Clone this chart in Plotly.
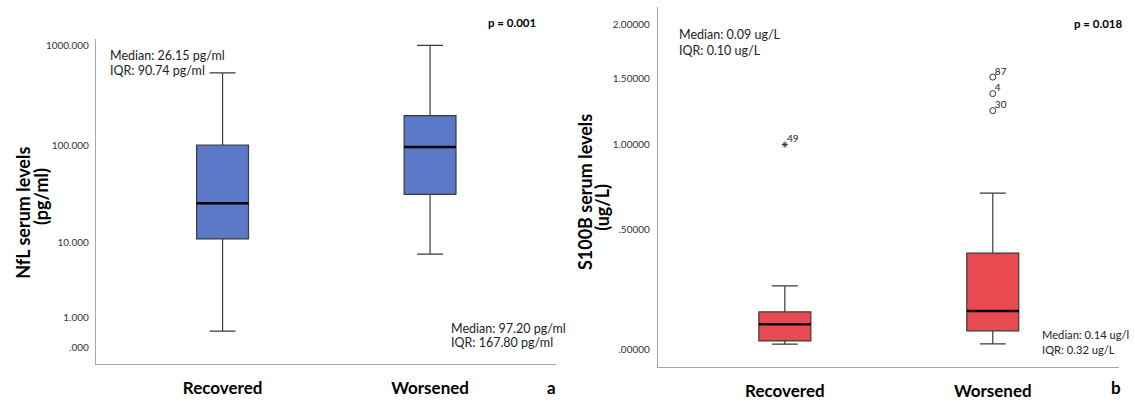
import numpy as np
import plotly.graph_objects as go

W, H = 1135, 401

# ---------------- data ----------------
categories = ["Recovered", "Worsened"]
cat_pos = [0, 1]

nfl_lower = [0.46, 7.5]
nfl_q1 = [11.0, 32.2]
nfl_median = [26.15, 97.2]
nfl_q3 = [101.7, 200.0]
nfl_upper = [532.0, 1000.0]

s100_lower = [0.019, 0.020]
s100_q1 = [0.030, 0.066]
s100_median = [0.09, 0.14]
s100_q3 = [0.136, 0.386]
s100_upper = [0.241, 0.698]

s100_out_cat = [0, 1, 1, 1]
s100_out_val = [1.00, 1.512, 1.376, 1.243]
s100_out_id = ["49", "87", "4", "30"]
s100_out_extreme = [True, False, False, False]

nfl_tick_vals = [0, 1, 10, 100, 1000]
nfl_tick_text = [".000", "1.000", "10.000", "100.000", "1000.000"]
s100_tick_vals = [0, 0.5, 1.0, 1.5, 2.0]
s100_tick_text = [".00000", ".50000", "1.00000", "1.50000", "2.00000"]


def slog(v):
    """SPSS-style safe log transform"""
    return np.log10(1 + np.asarray(v, dtype=float))


BLUE = "#5b79c6"
RED = "#e94a51"
BOX_W = 0.25
FONT = "Lato"

fig = go.Figure()


def add_boxes(xa, ya, lower, q1, med, q3, upper, color):
    for i, c in enumerate(cat_pos):
        fig.add_trace(go.Box(
            x=[c], lowerfence=[slog(lower[i])], q1=[slog(q1[i])],
            median=[slog(med[i])], q3=[slog(q3[i])], upperfence=[slog(upper[i])],
            width=BOX_W, whiskerwidth=0.5, fillcolor=color,
            line=dict(color="#3a3a3a", width=1.2), boxpoints=False,
            xaxis=xa, yaxis=ya, showlegend=False, hoverinfo="skip"))
        fig.add_trace(go.Scatter(
            x=[c - BOX_W / 2, c + BOX_W / 2], y=[slog(med[i])] * 2,
            mode="lines", line=dict(color="black", width=2.5),
            xaxis=xa, yaxis=ya, showlegend=False, hoverinfo="skip"))


add_boxes("x", "y", nfl_lower, nfl_q1, nfl_median, nfl_q3, nfl_upper, BLUE)
add_boxes("x2", "y2", s100_lower, s100_q1, s100_median, s100_q3, s100_upper, RED)

# outliers
for cat, val, lab, ext in zip(s100_out_cat, s100_out_val, s100_out_id, s100_out_extreme):
    fig.add_trace(go.Scatter(
        x=[cat], y=[slog(val)], mode="markers",
        marker=dict(symbol="asterisk-open" if ext else "circle-open",
                    size=5 if ext else 6, color="#333",
                    line=dict(width=1, color="#333")),
        xaxis="x2", yaxis="y2", showlegend=False, hoverinfo="skip"))
    fig.add_trace(go.Scatter(
        x=[cat + 0.01], y=[slog(val)], mode="text", text=[lab],
        textposition="top right", textfont=dict(family=FONT, size=10, color="#222"),
        xaxis="x2", yaxis="y2", showlegend=False, hoverinfo="skip"))

xrange = [-0.61, 1.607]


def px(x):
    return x / W


def py(y):
    return 1 - y / H


axis_common = dict(showline=True, linecolor="#a6a6a6", linewidth=1.3,
                   showgrid=False, zeroline=False, ticks="")

fig.update_layout(
    width=W, height=H, margin=dict(l=0, r=0, t=0, b=0),
    plot_bgcolor="white", paper_bgcolor="white",
    font=dict(family=FONT, color="#222"),
    xaxis=dict(domain=[px(96), px(556)], range=xrange, tickvals=cat_pos,
               ticktext=categories, anchor="y",
               tickfont=dict(family=FONT, size=17, color="black", weight="bold"),
               ticklabelstandoff=8, **axis_common),
    yaxis=dict(domain=[py(370), py(40)], range=[-0.1662, 3.0596],
               tickvals=list(slog(nfl_tick_vals)), ticktext=nfl_tick_text,
               tickfont=dict(family=FONT, size=10, color="#333"),
               ticklabelstandoff=4, anchor="x", **axis_common),
    xaxis2=dict(domain=[px(658), px(1119)], range=xrange, tickvals=cat_pos,
                ticktext=categories, anchor="y2",
                tickfont=dict(family=FONT, size=17, color="black", weight="bold"),
                ticklabelstandoff=8, **axis_common),
    yaxis2=dict(domain=[py(373), py(7)], range=[-0.02602, 0.50311],
                tickvals=list(slog(s100_tick_vals)), ticktext=s100_tick_text,
                tickfont=dict(family=FONT, size=10, color="#333"),
                ticklabelstandoff=5, anchor="x2", **axis_common),
)


def ann(text, x, y, size=12.5, bold=False, xanchor="left", angle=0, color="#222"):
    fig.add_annotation(text=text, x=px(x), y=py(y), xref="paper", yref="paper",
                       showarrow=False, xanchor=xanchor, yanchor="middle",
                       textangle=angle, align="left",
                       font=dict(family=FONT, size=size, color=color,
                                 weight="bold" if bold else "normal"))


# left panel texts
ann("Median: 26.15 pg/ml", 108, 56)
ann("IQR: 90.74 pg/ml", 108, 72)
ann("p = 0.001", 512, 23, size=11.5, bold=True, xanchor="center", color="black")
ann("Median: 97.20 pg/ml", 449, 333)
ann("IQR: 167.80 pg/ml", 449, 348)
ann("a", 551, 393, size=17, bold=True, xanchor="center", color="black")
ann("NfL serum levels", 23, 216, size=18, bold=True, xanchor="center", angle=-90, color="black")
ann("(pg/ml)", 41, 200, size=18, bold=True, xanchor="center", angle=-90, color="black")

# right panel texts
ann("Median: 0.14 ug/l", 1040, 340, size=11.2)
ann("IQR: 0.32 ug/L", 1040, 355, size=11.2)
ann("Median: 0.09 ug/L", 677, 35)
ann("IQR: 0.10 ug/L", 677, 51)
ann("p = 0.018", 1098, 24, size=11.5, bold=True, xanchor="center", color="black")
ann("b", 1116, 393, size=17, bold=True, xanchor="center", color="black")
ann("S100B serum levels", 585, 195, size=18, bold=True, xanchor="center", angle=-90, color="black")
ann("(ug/L)", 602, 211, size=18, bold=True, xanchor="center", angle=-90, color="black")

fig.write_html("out.html", config={"displayModeBar": False},
               post_script="document.body.style.margin='0px';")
